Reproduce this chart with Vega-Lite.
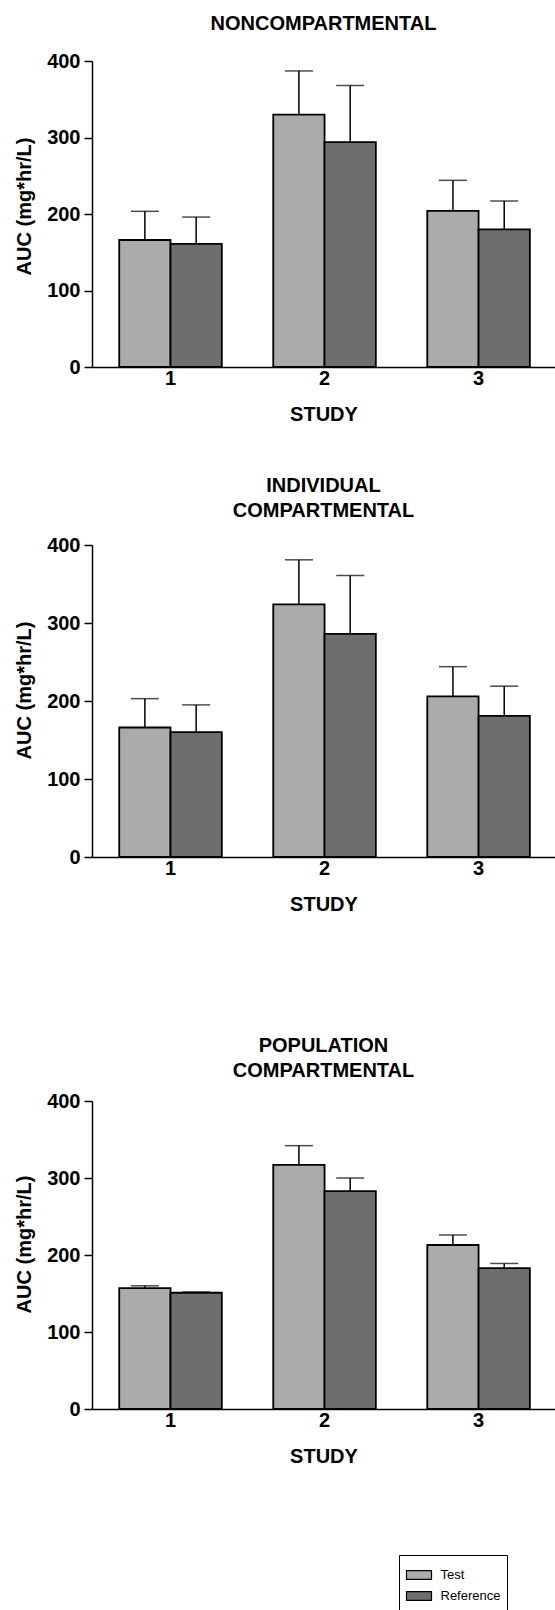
{
  "$schema": "https://vega.github.io/schema/vega-lite/v6.json",
  "padding": {"left": 14, "top": 14, "right": 0, "bottom": 0},
  "background": "white",
  "config": {
    "font": "Liberation Sans",
    "view": {"stroke": null},
    "axis": {"labelFont": "Liberation Sans", "labelFontSize": 20, "labelFontWeight": "bold", "labelColor": "black", "titleFont": "Liberation Sans", "titleFontSize": 20, "titleFontWeight": "bold", "titleColor": "black", "domainColor": "black", "domainWidth": 1.5, "tickColor": "black", "tickWidth": 1.5, "grid": false},
    "axisY": {"tickSize": 8, "labelPadding": 4, "titlePadding": 12},
    "axisX": {"ticks": false, "tickSize": 0, "labelAngle": 0, "labelPadding": 1, "titlePadding": 16},
    "title": {"font": "Liberation Sans", "fontSize": 20, "fontWeight": "bold", "color": "black", "frame": "group", "anchor": "middle", "lineHeight": 25}
  },
  "datasets": {
    "auc": [
      {"panel": "NON", "study": "1", "group": "Test", "auc": 166, "err": 203.5},
      {"panel": "NON", "study": "1", "group": "Reference", "auc": 161, "err": 196},
      {"panel": "NON", "study": "2", "group": "Test", "auc": 330, "err": 387},
      {"panel": "NON", "study": "2", "group": "Reference", "auc": 294, "err": 368},
      {"panel": "NON", "study": "3", "group": "Test", "auc": 204, "err": 244},
      {"panel": "NON", "study": "3", "group": "Reference", "auc": 180, "err": 217},
      {"panel": "IND", "study": "1", "group": "Test", "auc": 166, "err": 203},
      {"panel": "IND", "study": "1", "group": "Reference", "auc": 160, "err": 195},
      {"panel": "IND", "study": "2", "group": "Test", "auc": 324, "err": 381},
      {"panel": "IND", "study": "2", "group": "Reference", "auc": 286, "err": 361},
      {"panel": "IND", "study": "3", "group": "Test", "auc": 206, "err": 244},
      {"panel": "IND", "study": "3", "group": "Reference", "auc": 181, "err": 219},
      {"panel": "POP", "study": "1", "group": "Test", "auc": 157, "err": 160},
      {"panel": "POP", "study": "1", "group": "Reference", "auc": 151, "err": 152},
      {"panel": "POP", "study": "2", "group": "Test", "auc": 317, "err": 342},
      {"panel": "POP", "study": "2", "group": "Reference", "auc": 283, "err": 300},
      {"panel": "POP", "study": "3", "group": "Test", "auc": 213, "err": 226},
      {"panel": "POP", "study": "3", "group": "Reference", "auc": 183, "err": 189}
    ]
  },
  "resolve": {"scale": {"fill": "independent"}, "legend": {"fill": "independent"}},
  "spacing": 122,
  "vconcat": [
    {
      "resolve": {"scale": {"fill": "independent"}, "legend": {"fill": "independent"}},
      "spacing": 52,
      "vconcat": [
        {
          "width": 463, "height": 306,
          "data": {"name": "auc"},
          "transform": [{"filter": "datum.panel === 'NON'"}],
          "title": {"text": "NONCOMPARTMENTAL", "offset": 17},
          "encoding": {
            "x": {"field": "study", "type": "ordinal", "title": "STUDY", "scale": {"paddingInner": 0.334, "paddingOuter": 0.17, "align": 0.52}},
            "xOffset": {"field": "group", "type": "nominal", "sort": ["Test", "Reference"], "scale": {"paddingInner": 0, "paddingOuter": 0}}
          },
          "layer": [
            {"mark": {"type": "rule", "color": "black", "strokeWidth": 1.5},
             "encoding": {"y": {"field": "auc", "type": "quantitative", "title": "AUC (mg*hr/L)", "scale": {"domain": [0, 400]}, "axis": {"titleY": 145, "values": [0, 100, 200, 300, 400]}}, "y2": {"field": "err"}}},
            {"mark": {"type": "tick", "color": "black", "size": 28, "thickness": 1.5},
             "encoding": {"y": {"field": "err", "type": "quantitative", "title": "AUC (mg*hr/L)", "scale": {"domain": [0, 400]}, "axis": {"titleY": 145, "values": [0, 100, 200, 300, 400]}}}},
            {"mark": {"type": "bar", "stroke": "black", "strokeWidth": 1.8},
             "encoding": {
               "y": {"field": "auc", "type": "quantitative", "title": "AUC (mg*hr/L)", "scale": {"domain": [0, 400]}, "axis": {"titleY": 145, "values": [0, 100, 200, 300, 400]}},
               "fill": {"field": "group", "type": "nominal", "sort": ["Test", "Reference"], "scale": {"domain": ["Test", "Reference"], "range": ["#ababab", "#6e6e6e"]}, "legend": null}
             }}
          ]
        },
        {
          "width": 463, "height": 312,
          "data": {"name": "auc"},
          "transform": [{"filter": "datum.panel === 'IND'"}],
          "title": {"text": ["INDIVIDUAL", "COMPARTMENTAL"], "offset": 14},
          "encoding": {
            "x": {"field": "study", "type": "ordinal", "title": "STUDY", "scale": {"paddingInner": 0.334, "paddingOuter": 0.17, "align": 0.52}},
            "xOffset": {"field": "group", "type": "nominal", "sort": ["Test", "Reference"], "scale": {"paddingInner": 0, "paddingOuter": 0}}
          },
          "layer": [
            {"mark": {"type": "rule", "color": "black", "strokeWidth": 1.5},
             "encoding": {"y": {"field": "auc", "type": "quantitative", "title": "AUC (mg*hr/L)", "scale": {"domain": [0, 400]}, "axis": {"titleY": 145, "values": [0, 100, 200, 300, 400]}}, "y2": {"field": "err"}}},
            {"mark": {"type": "tick", "color": "black", "size": 28, "thickness": 1.5},
             "encoding": {"y": {"field": "err", "type": "quantitative", "title": "AUC (mg*hr/L)", "scale": {"domain": [0, 400]}, "axis": {"titleY": 145, "values": [0, 100, 200, 300, 400]}}}},
            {"mark": {"type": "bar", "stroke": "black", "strokeWidth": 1.8},
             "encoding": {
               "y": {"field": "auc", "type": "quantitative", "title": "AUC (mg*hr/L)", "scale": {"domain": [0, 400]}, "axis": {"titleY": 145, "values": [0, 100, 200, 300, 400]}},
               "fill": {"field": "group", "type": "nominal", "sort": ["Test", "Reference"], "scale": {"domain": ["Test", "Reference"], "range": ["#ababab", "#6e6e6e"]}, "legend": null}
             }}
          ]
        }
      ]
    },
    {
      "width": 463, "height": 308,
      "data": {"name": "auc"},
      "transform": [{"filter": "datum.panel === 'POP'"}],
      "title": {"text": ["POPULATION", "COMPARTMENTAL"], "offset": 10},
      "encoding": {
        "x": {"field": "study", "type": "ordinal", "title": "STUDY", "scale": {"paddingInner": 0.334, "paddingOuter": 0.17, "align": 0.52}},
        "xOffset": {"field": "group", "type": "nominal", "sort": ["Test", "Reference"], "scale": {"paddingInner": 0, "paddingOuter": 0}}
      },
      "layer": [
        {"mark": {"type": "rule", "color": "black", "strokeWidth": 1.5},
         "encoding": {"y": {"field": "auc", "type": "quantitative", "title": "AUC (mg*hr/L)", "scale": {"domain": [0, 400]}, "axis": {"titleY": 143, "values": [0, 100, 200, 300, 400]}}, "y2": {"field": "err"}}},
        {"mark": {"type": "tick", "color": "black", "size": 28, "thickness": 1.5},
         "encoding": {"y": {"field": "err", "type": "quantitative", "title": "AUC (mg*hr/L)", "scale": {"domain": [0, 400]}, "axis": {"titleY": 143, "values": [0, 100, 200, 300, 400]}}}},
        {"mark": {"type": "bar", "stroke": "black", "strokeWidth": 1.8},
         "encoding": {
           "y": {"field": "auc", "type": "quantitative", "title": "AUC (mg*hr/L)", "scale": {"domain": [0, 400]}, "axis": {"titleY": 143, "values": [0, 100, 200, 300, 400]}},
           "fill": {"field": "group", "type": "nominal", "sort": ["Test", "Reference"], "scale": {"domain": ["Test", "Reference"], "range": ["#ababab", "#6e6e6e"]},
             "legend": {"orient": "none", "legendX": 307, "legendY": 454, "title": null, "strokeColor": "black", "padding": 6.5, "rowPadding": -11.5, "symbolType": "M-1,-0.35H1V0.35H-1Z", "symbolSize": 625, "symbolStrokeColor": "black", "symbolStrokeWidth": 1.2, "symbolOpacity": 1, "labelFont": "Liberation Sans", "labelFontSize": 13, "labelColor": "black", "labelOffset": 8}}
         }}
      ]
    }
  ]
}
